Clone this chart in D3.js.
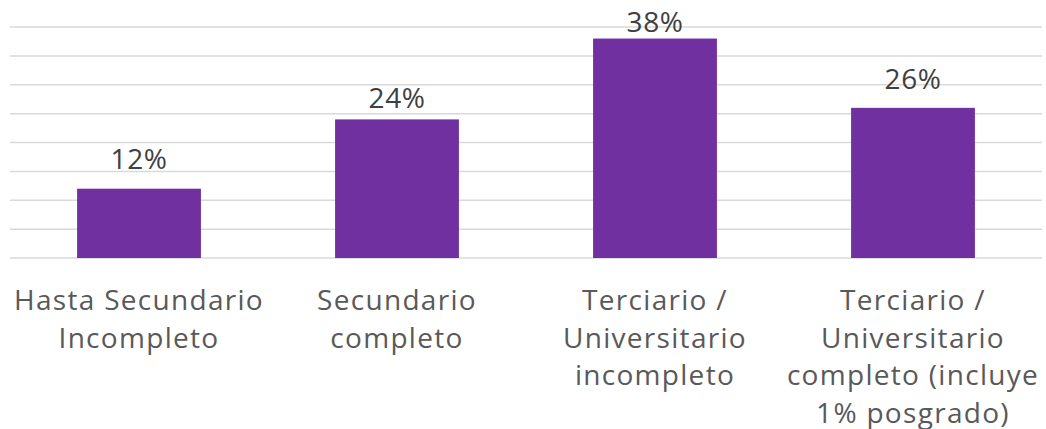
<!DOCTYPE html>
<html>
<head>
<meta charset="utf-8">
<script src="https://cdn.jsdelivr.net/npm/d3@7"></script>
<style>
  body { margin: 0; background: #fff; }
  text { font-family: "Open Sans", sans-serif; }
</style>
</head>
<body>
<div id="chart"></div>
<script>
// Datos del gráfico
const categorias = [
  ["Hasta Secundario", "Incompleto"],
  ["Secundario", "completo"],
  ["Terciario /", "Universitario", "incompleto"],
  ["Terciario /", "Universitario", "completo (incluye", "1% posgrado)"]
];
const valores = [12, 24, 38, 26];
const ticks = [0, 5, 10, 15, 20, 25, 30, 35, 40];

// Separación de cada etiqueta sobre su barra (como en el original)
const separacionEtiqueta = [20, 11, 6.5, 19];

const width = 1046;
const height = 429;
const margin = { top: 27, right: 4, bottom: 171, left: 10 };

const svg = d3.select("#chart")
  .append("svg")
  .attr("width", width)
  .attr("height", height);

// Escalas
const x = d3.scaleBand()
  .domain(d3.range(valores.length))
  .range([margin.left, width - margin.right])
  .paddingInner(0.52)
  .paddingOuter(0.26);

const y = d3.scaleLinear()
  .domain([0, 40])
  .range([height - margin.bottom, margin.top]);

// Líneas de la grilla
svg.append("g")
  .selectAll("line")
  .data(ticks)
  .enter().append("line")
  .attr("x1", margin.left)
  .attr("x2", width - margin.right)
  .attr("y1", d => y(d))
  .attr("y2", d => y(d))
  .attr("stroke", "#d9d9d9")
  .attr("stroke-width", 1.5);

// Barras
svg.append("g")
  .selectAll("rect")
  .data(valores)
  .enter().append("rect")
  .attr("x", (d, i) => x(i))
  .attr("y", d => y(d))
  .attr("width", x.bandwidth())
  .attr("height", d => y(0) - y(d))
  .attr("fill", "#7030a0");

// Etiquetas de valores
svg.append("g")
  .selectAll("text")
  .data(valores)
  .enter().append("text")
  .attr("x", (d, i) => x(i) + x.bandwidth() / 2)
  .attr("y", (d, i) => y(d) - separacionEtiqueta[i])
  .attr("text-anchor", "middle")
  .style("font-size", "28px")
  .style("letter-spacing", "0.6px")
  .style("fill", "#404040")
  .text(d => d + "%");

// Etiquetas de categorías (varias líneas)
const etiquetas = svg.append("g")
  .selectAll("text")
  .data(categorias)
  .enter().append("text")
  .attr("text-anchor", "middle")
  .style("font-size", "28px")
  .style("letter-spacing", "1.3px")
  .style("fill", "#595959");

etiquetas.selectAll("tspan")
  .data((d, i) => d.map(linea => ({ linea, i })))
  .enter().append("tspan")
  .attr("x", d => x(d.i) + x.bandwidth() / 2)
  .attr("y", (d, j) => y(0) + 52 + j * 37.5)
  .text(d => d.linea);
</script>
</body>
</html>
